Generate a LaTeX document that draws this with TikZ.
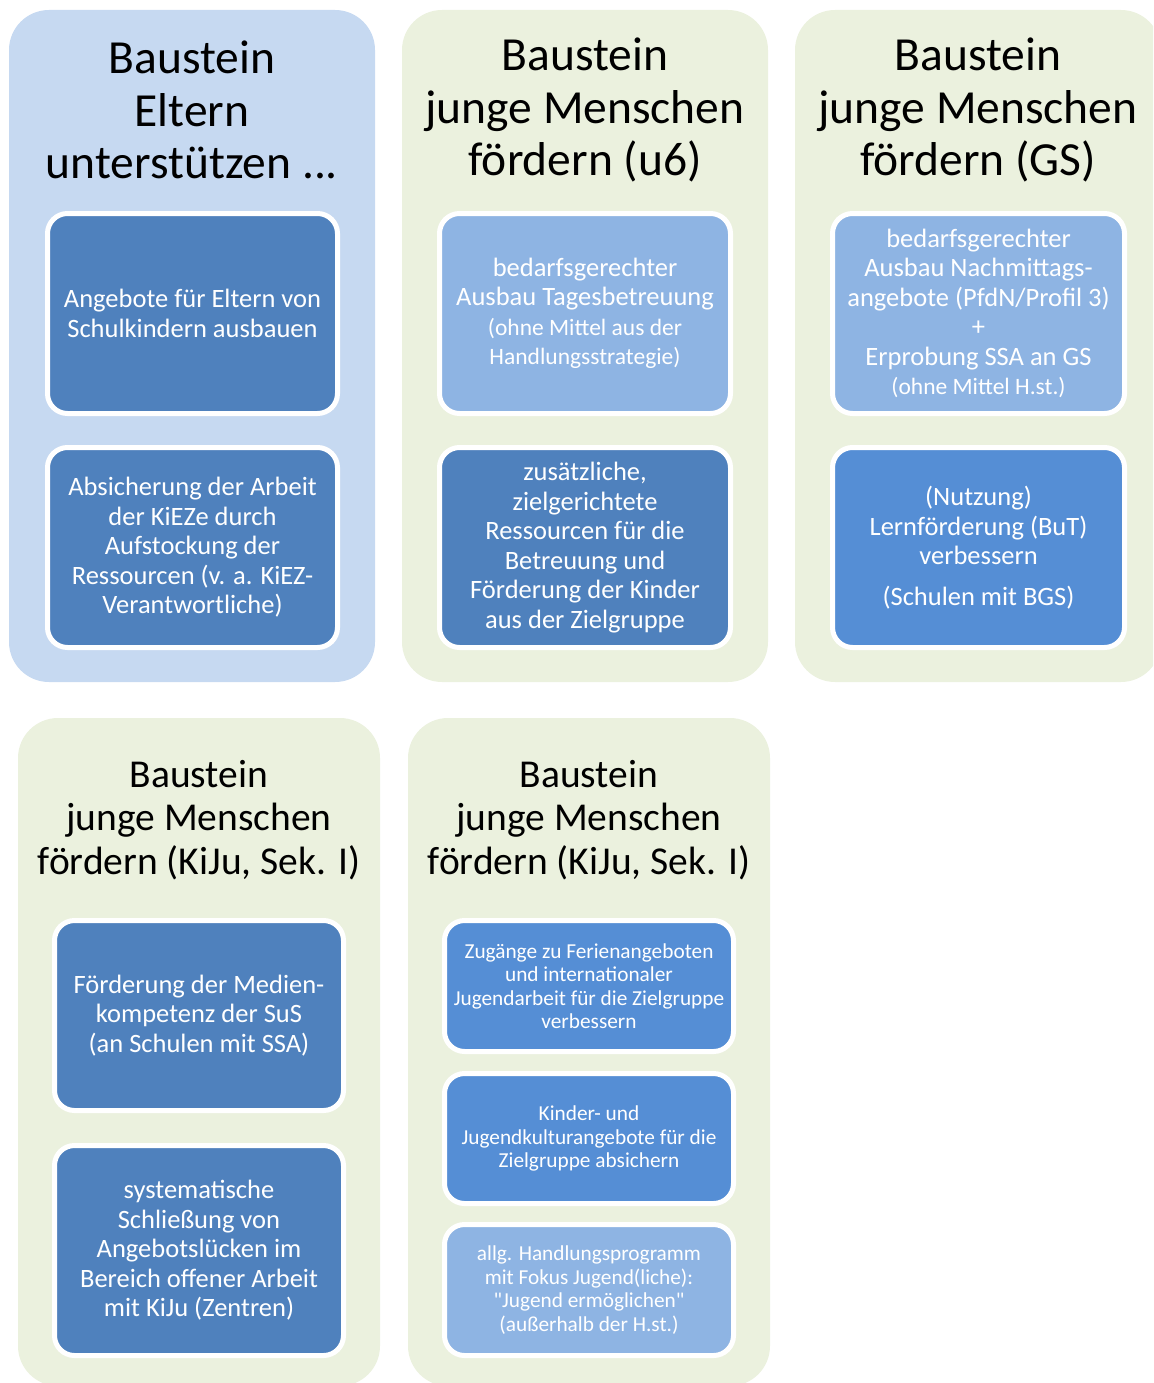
\documentclass[tikz,border=0pt]{standalone}
\usepackage{fontspec}
\setmainfont{Carlito}
\newfontfamily\qfont{Carlito}[Ligatures=TeXOff]
\definecolor{pblue}{HTML}{C6D9F1}
\definecolor{pgreen}{HTML}{EBF1DE}
\definecolor{bdark}{HTML}{4F81BD}
\definecolor{blight}{HTML}{8EB4E3}
\definecolor{bmid}{HTML}{558ED5}
\tikzset{
  panel/.style={rectangle, rounded corners=40pt, draw=none, inner sep=0pt},
  inbox/.style={rectangle, rounded corners=20pt, draw=white, line width=5pt, text=white, align=center, inner sep=0pt},
  bigtitle/.style={align=center, text=black, font=\fontsize{47.5}{52.5}\selectfont},
  smalltitle/.style={align=center, text=black, font=\fontsize{39.5}{43.5}\selectfont},
  boxtxt/.style={font=\fontsize{26.5}{29.5}\selectfont},
  smtxt/.style={font=\fontsize{21.3}{23.5}\selectfont},
}
\newcommand{\sm}{\fontsize{23.5}{27}\selectfont}
\newcommand{\dq}{{\qfont\char34}}
\begin{document}
\begin{tikzpicture}[x=1pt,y=-1pt]
\path[use as bounding box] (0,0) rectangle (1153,1383);
\clip (0,0) rectangle (1153,1383);
% panels
\node[panel, fill=pblue, minimum width=366pt, minimum height=672pt] (p1) at (192,346) {};
\node[panel, fill=pgreen, minimum width=366pt, minimum height=672pt] (p2) at (585,346) {};
\node[panel, fill=pgreen, minimum width=366pt, minimum height=672pt] (p3) at (978,346) {};
\node[panel, fill=pgreen, minimum width=362pt, minimum height=668pt] (p4) at (199,1052) {};
\node[panel, fill=pgreen, minimum width=362pt, minimum height=668pt] (p5) at (589,1052) {};
% titles
\node[bigtitle] (t1) at (192,110) {Baustein\\Eltern\\unterstützen ...};
\node[bigtitle] (t2) at (585,110) {Baustein\\junge Menschen\\fördern (u6)};
\node[bigtitle] (t3) at (978,110) {Baustein\\junge Menschen\\fördern (GS)};
\node[smalltitle] (t4) at (199,820) {Baustein\\junge Menschen\\fördern (KiJu, Sek. I)};
\node[smalltitle] (t5) at (589,820) {Baustein\\junge Menschen\\fördern (KiJu, Sek. I)};
% column 1
\node[inbox, boxtxt, fill=bdark, minimum width=290pt, minimum height=200pt] (a1) at (192.5,313.5)
  {Angebote für Eltern von\\Schulkindern ausbauen};
\node[inbox, boxtxt, fill=bdark, minimum width=290pt, minimum height=200pt] (a2) at (192.5,547.5)
  {Absicherung der Arbeit\\der KiEZe durch\\Aufstockung der\\Ressourcen (v. a. KiEZ-\\Verantwortliche)};
% column 2
\node[inbox, boxtxt, fill=blight, minimum width=291pt, minimum height=200pt] (b1) at (585,313.5)
  {bedarfsgerechter\\Ausbau Tagesbetreuung\\{\sm (ohne Mittel aus der}\\{\sm Handlungsstrategie)}};
\node[inbox, boxtxt, fill=bdark, minimum width=291pt, minimum height=200pt] (b2) at (585,547.5)
  {zusätzliche,\\zielgerichtete\\Ressourcen für die\\Betreuung und\\Förderung der Kinder\\aus der Zielgruppe};
% column 3
\node[inbox, boxtxt, fill=blight, minimum width=292pt, minimum height=200pt] (c1) at (978.5,313.5)
  {bedarfsgerechter\\Ausbau Nachmittags-\\angebote (PfdN/Profil 3)\\+\\Erprobung SSA an GS\\{\sm (ohne Mittel H.st.)}};
\node[inbox, boxtxt, fill=bmid, minimum width=292pt, minimum height=200pt] (c2) at (978.5,547.5)
  {(Nutzung)\\Lernförderung (BuT)\\verbessern\\[11pt](Schulen mit BGS)};
% column 4
\node[inbox, boxtxt, fill=bdark, minimum width=289pt, minimum height=190pt] (d1) at (199,1015.5)
  {Förderung der Medien-\\kompetenz der SuS\\(an Schulen mit SSA)};
\node[inbox, boxtxt, fill=bdark, minimum width=289pt, minimum height=210pt] (d2) at (199,1250.5)
  {systematische\\Schließung von\\Angebotslücken im\\Bereich offener Arbeit\\mit KiJu (Zentren)};
% column 5
\node[inbox, smtxt, fill=bmid, minimum width=289pt, minimum height=131pt] (e1) at (589,986)
  {Zugänge zu Ferienangeboten\\und internationaler\\Jugendarbeit für die Zielgruppe\\verbessern};
\node[inbox, smtxt, fill=bmid, minimum width=289pt, minimum height=130pt] (e2) at (589,1138.5)
  {Kinder- und\\Jugendkulturangebote für die\\Zielgruppe absichern};
\node[inbox, smtxt, fill=blight, minimum width=289pt, minimum height=131pt] (e3) at (589,1290)
  {allg. Handlungsprogramm\\mit Fokus Jugend(liche):\\\dq Jugend ermöglichen\dq\\(außerhalb der H.st.)};
\end{tikzpicture}
\end{document}
